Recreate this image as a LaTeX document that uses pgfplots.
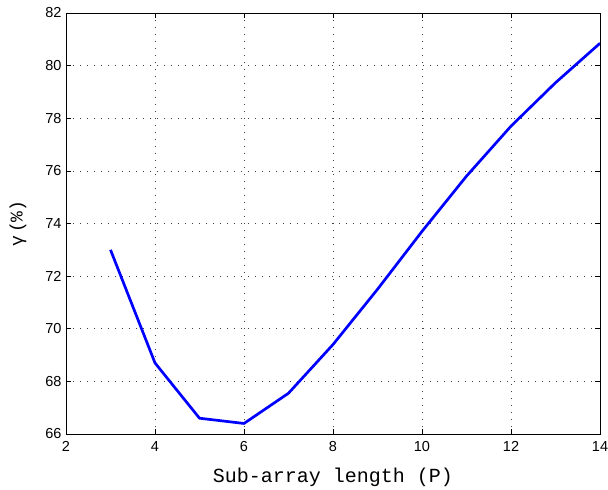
\documentclass[border=0pt]{standalone}
\usepackage{fontspec}
\setmainfont{Liberation Sans}
\newfontfamily\monofont{Liberation Mono}
\usepackage{pgfplots}
\pgfplotsset{compat=1.18}
\usetikzlibrary{calc}
\begin{document}
\begin{tikzpicture}
\begin{axis}[
  scale only axis,
  width=534pt, height=421pt,
  xmin=2, xmax=14, ymin=66, ymax=82,
  xtick={2,4,...,14}, ytick={66,68,...,82},
  tick align=inside,
  major tick length=5pt,
  minor tick num=0,
  grid=major,
  grid style={black!75, line width=0.7pt, dash pattern=on 0.8pt off 6.2pt},
  axis line style={black, line width=0.9pt},
  tick style={black, line width=0.7pt},
  every tick label/.append style={font=\fontsize{14.5}{16}\selectfont},
  /pgf/number format/assume math mode=true,
  xticklabel style={yshift=-4pt},
  yticklabel style={xshift=-1pt},
  xlabel={\monofont Sub-array length (P)},
  ylabel={\monofont γ\,(\%)},
  xlabel style={font=\fontsize{20}{22}\selectfont, yshift=-9pt},
  ylabel style={font=\fontsize{18}{20}\selectfont, yshift=12pt},
]
\addplot[color={rgb,255:red,0;green,0;blue,255}, line width=2.7pt, line join=round] coordinates {
(3,73.0) (4,68.7) (5,66.6) (6,66.4) (7,67.55) (8,69.4) (9,71.5) (10,73.7) (11,75.8) (12,77.7) (13,79.35) (14,80.85)
};
\end{axis}
\pgfresetboundingbox
\path[use as bounding box] ($(current axis.south west)+(-66pt,-56pt)$) rectangle ($(current axis.north east)+(8pt,13pt)$);
\end{tikzpicture}
\end{document}
